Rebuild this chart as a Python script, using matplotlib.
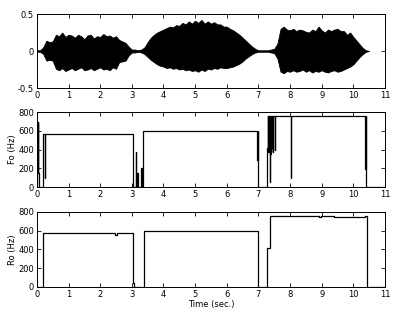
import numpy as np
import matplotlib
matplotlib.use("Agg")
import matplotlib.pyplot as plt

plt.rcParams['axes.unicode_minus'] = False
plt.rcParams['font.family'] = 'DejaVu Sans'

# --- Waveform envelope (sampled every 0.1 s) ---
wave_t = [round(0.1 * i, 1) for i in range(106)]
wave_upper = [0.01, 0.01, 0.05, 0.14, 0.12, 0.13, 0.22, 0.20, 0.25, 0.19,
              0.22, 0.21, 0.18, 0.22, 0.20, 0.16, 0.21, 0.22, 0.17, 0.20,
              0.19, 0.23, 0.20, 0.21, 0.18, 0.20, 0.15, 0.13, 0.11, 0.06,
              0.02, 0.02, 0.01, 0.02, 0.05, 0.12, 0.18, 0.22, 0.25, 0.27,
              0.29, 0.31, 0.33, 0.32, 0.35, 0.34, 0.38, 0.36, 0.40, 0.37,
              0.41, 0.38, 0.42, 0.37, 0.40, 0.37, 0.39, 0.36, 0.36, 0.33,
              0.33, 0.30, 0.28, 0.25, 0.22, 0.18, 0.14, 0.10, 0.06, 0.03,
              0.01, 0.01, 0.01, 0.01, 0.02, 0.03, 0.10, 0.30, 0.33, 0.29,
              0.28, 0.30, 0.27, 0.29, 0.28, 0.26, 0.25, 0.29, 0.27, 0.33,
              0.28, 0.25, 0.29, 0.27, 0.29, 0.30, 0.27, 0.27, 0.22, 0.25,
              0.19, 0.14, 0.09, 0.04, 0.01, 0.0]
wave_lower = [-0.01, -0.01, -0.04, -0.13, -0.12, -0.13, -0.24, -0.26, -0.23, -0.27,
              -0.25, -0.23, -0.26, -0.24, -0.22, -0.26, -0.25, -0.23, -0.26, -0.24,
              -0.22, -0.25, -0.24, -0.26, -0.22, -0.24, -0.15, -0.14, -0.13, -0.06,
              -0.02, -0.02, -0.01, -0.02, -0.04, -0.08, -0.12, -0.15, -0.18, -0.20,
              -0.21, -0.23, -0.22, -0.24, -0.23, -0.25, -0.24, -0.26, -0.25, -0.27,
              -0.26, -0.28, -0.25, -0.27, -0.24, -0.25, -0.23, -0.24, -0.22, -0.23,
              -0.23, -0.22, -0.21, -0.19, -0.17, -0.14, -0.10, -0.07, -0.04, -0.02,
              -0.01, -0.01, -0.01, -0.01, -0.02, -0.03, -0.10, -0.28, -0.30, -0.27,
              -0.28, -0.26, -0.28, -0.27, -0.25, -0.28, -0.26, -0.29, -0.27, -0.28,
              -0.26, -0.28, -0.29, -0.27, -0.26, -0.28, -0.27, -0.25, -0.23, -0.21,
              -0.18, -0.13, -0.08, -0.04, -0.01, 0.0]

# --- Raw F0 estimate (step, value holds from time onward) ---
f0_t = [0.00, 0.01, 0.02, 0.03, 0.04, 0.06, 0.19, 0.25, 0.26, 3.05,
        3.13, 3.14, 3.17, 3.18, 3.30, 3.31, 3.32, 3.33, 3.34, 3.36,
        6.97, 6.98, 6.99, 7.00, 7.27, 7.29, 7.30, 7.31, 7.32, 7.33,
        7.34, 7.35, 7.36, 7.37, 7.38, 7.39, 7.40, 7.41, 7.43, 7.44,
        7.46, 7.47, 7.51, 7.52, 8.02, 8.03, 10.38, 10.39, 10.40, 10.41, 11.0]
f0_val = [0, 700, 150, 700, 150, 0, 570, 100, 570, 0,
          380, 0, 150, 0, 200, 0, 200, 0, 200, 600,
          290, 600, 570, 0, 420, 760, 380, 760, 400, 760,
          380, 760, 60, 760, 350, 760, 380, 760, 420, 760,
          380, 760, 400, 760, 100, 760, 190, 760, 190, 0, 0]

# --- Smoothed F0 ---
r0_t = [0.00, 0.20, 2.48, 2.53, 3.05, 3.07, 3.37, 7.00, 7.27, 7.38,
        8.92, 8.97, 9.40, 10.37, 10.42, 11.0]
r0_val = [0, 570, 555, 570, 40, 0, 600, 0, 415, 760,
          750, 760, 750, 760, 0, 0]

fig = plt.figure(figsize=(4.10, 3.26), dpi=100)
left, width = 0.090, 0.849
ax1 = fig.add_axes([left, 0.730, width, 0.227])
ax2 = fig.add_axes([left, 0.426, width, 0.230])
ax3 = fig.add_axes([left, 0.120, width, 0.230])

ax1.fill_between(wave_t, wave_lower, wave_upper, color='black', linewidth=0.6)
ax1.plot([0, 0.2], [0, 0], color='black', lw=0.8)
ax1.set_ylim(-0.5, 0.5)
ax1.set_yticks([-0.5, 0, 0.5])
ax1.set_yticklabels(['-0.5', '0', '0.5'])

ax2.plot(f0_t, f0_val, drawstyle='steps-post', color='black', lw=0.9)
ax2.set_ylim(0, 800)
ax2.set_yticks([0, 200, 400, 600, 800])
ax2.set_ylabel('Fo (Hz)', fontsize=6, labelpad=1)

ax3.plot(r0_t, r0_val, drawstyle='steps-post', color='black', lw=0.9)
ax3.set_ylim(0, 800)
ax3.set_yticks([0, 200, 400, 600, 800])
ax3.set_ylabel('Ro (Hz)', fontsize=6, labelpad=1)
ax3.set_xlabel('Time (sec.)', fontsize=6, labelpad=1)

for ax in (ax1, ax2, ax3):
    ax.set_xlim(0, 11)
    ax.set_xticks(range(12))
    ax.tick_params(direction='in', top=True, right=True, length=3, width=0.6,
                   labelsize=6, pad=2)
    for s in ax.spines.values():
        s.set_linewidth(0.7)

fig.savefig('out.png', dpi=100)
